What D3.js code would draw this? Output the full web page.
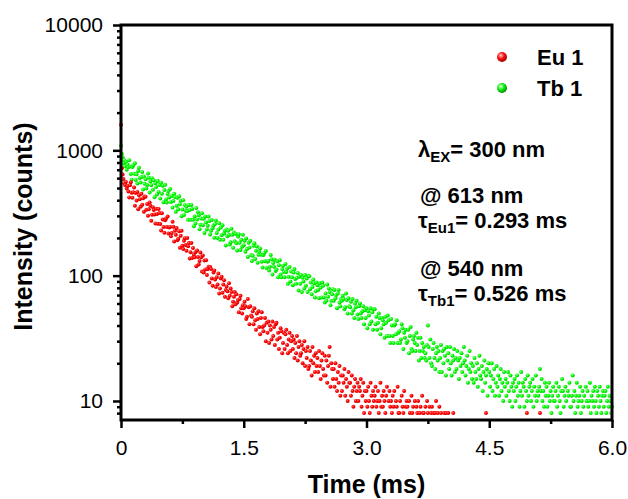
<!DOCTYPE html>
<html>
<head>
<meta charset="utf-8">
<script src="https://cdn.jsdelivr.net/npm/d3@7"></script>
<style>
  body { margin: 0; background: #fff; }
  svg { display: block; font-family: "Liberation Sans", Arial, Helvetica, sans-serif; }
</style>
</head>
<body>
<div id="decayChart"></div>
<script>
// channel width of the decay measurement (ms)
var timeStep = 0.01;

// Eu 1 counts, one value per channel starting at 0 ms (10 channels = 0.1 ms per row)
var euCounts = [
  1600, 720, 640, 590, 545, 530, 560, 495, 520, 470,
  421, 526, 557, 458, 419, 462, 504, 362, 457, 397,
  466, 339, 438, 407, 354, 451, 368, 415, 323, 429,
  427, 335, 373, 301, 338, 384, 362, 274, 306, 352,
  334, 308, 261, 342, 311, 260, 340, 316, 258, 229,
  314, 280, 244, 220, 277, 286, 244, 296, 217, 242,
  245, 206, 219, 269, 246, 187, 228, 212, 240, 192,
  197, 226, 167, 208, 228, 173, 163, 190, 199, 176,
  158, 200, 172, 182, 137, 154, 182, 138, 166, 147,
  140, 154, 119, 159, 141, 123, 131, 153, 140, 108,
  145, 106, 132, 112, 133, 101, 113, 118, 88, 117,
  113, 95, 83, 106, 110, 93, 81, 97, 85, 104,
  72, 79, 95, 98, 73, 85, 92, 68, 77, 82,
  75, 66, 87, 69, 79, 74, 57, 62, 68, 74,
  59, 71, 61, 64, 51, 65, 69, 55, 50, 58,
  55, 62, 57, 45, 47, 65, 56, 41, 57, 48,
  47, 52, 41, 55, 44, 37, 50, 45, 52, 39,
  34, 46, 51, 39, 36, 40, 46, 30, 42, 35,
  43, 29, 40, 37, 31, 43, 33, 39, 28, 41,
  42, 31, 35, 26, 32, 38, 36, 24, 29, 35,
  26, 34, 37, 28, 24, 31, 35, 25, 30, 33,
  26, 31, 22, 29, 24, 33, 21, 27, 30, 23,
  24, 28, 20, 26, 30, 19, 25, 22, 27, 18,
  19, 25, 21, 16, 27, 20, 23, 17, 24, 19,
  22, 17, 25, 19, 15, 21, 24, 18, 16, 23,
  16, 21, 14, 19, 23, 27, 13, 20, 18, 15,
  18, 13, 20, 15, 12, 17, 14, 19, 11, 16,
  12, 16, 14, 18, 11, 15, 13, 10, 17, 14,
  14, 11, 16, 12, 9, 13, 15, 10, 12, 14,
  10, 13, 12, 15, 9, 11, 14, 8, 12, 10,
  12, 9, 13, 10, 8, 14, 11, 9, 12, 10,
  11, 13, 9, 10, 12, 8, 10, 14, 9, 11,
  9, 12, 10, 8, 11, 13, 7, 10, 12, 9,
  10, 8, 11, 9, 12, 7, 10, 9, 13, 8,
  8, 10, 7, 11, 9, 8, 12, 6, 9, 10,
  9, 7, 10, 8, 6, 11, 8, 9, 7, 10,
  7, 9, 8, 10, 6, 8, 9, 7, 11, 8,
  8, 6, 9, 7, 10, 8, 7, 9, 6, 8,
  9, 7, 8, 6, 8, 10, 7, 8, 6, 9,
  7, 8, 6, 7, 7, 8, 5, 8, 7, 6,
  8, 6, 7, 6, 7, 5, 8, 7, 6, 7,
  6, 7, 6, 5, 7, 6, 7, 7, 6, 7,
  7, 5, 6, 7, 7, 6, 5, 7, 6, 7,
  6, 7, 5, 6, 7, 6, 7, 5, 6, 7,
  5, 6, 7, 6, 5, 7, 8, 6, 5, 6,
  6, 7, 5, 6, 6, 5, 7, 6, 5, 6,
  6, 5, 6, 7, 5, 6, 5, 6, 7, 5,
  5, 6, 6, 5, 7, 6, 5, 6, 5, 6,
  6, 5, 6, 5, 6, 7, 5, 6, 5, 5,
  5, 6, 5, 6, 5, 6, 8, 5, 6, 5,
  6, 5, 5, 6, 5, 6, 5, 5, 6, 5,
  5, 6, 8, 5, 6, 5, 5, 6, 5, 6
];

// Tb 1 counts, same channel width, 0 to 6 ms
var tbCounts = [
  1090, 940, 880, 790, 835, 745, 812, 700, 770, 735,
  832, 743, 648, 583, 736, 760, 649, 787, 579, 643,
  544, 684, 727, 601, 553, 613, 673, 487, 617, 540,
  587, 496, 530, 654, 603, 460, 564, 526, 600, 484,
  577, 422, 546, 510, 445, 569, 466, 529, 413, 551,
  451, 521, 386, 482, 531, 405, 383, 448, 473, 421,
  491, 387, 432, 350, 394, 450, 424, 323, 361, 418,
  338, 430, 371, 396, 298, 337, 400, 305, 367, 329,
  355, 328, 279, 366, 334, 279, 367, 341, 279, 248,
  297, 261, 347, 280, 321, 303, 235, 255, 286, 314,
  253, 284, 219, 297, 265, 234, 250, 296, 273, 213,
  228, 278, 239, 251, 201, 258, 275, 219, 200, 233,
  262, 193, 242, 210, 252, 193, 217, 228, 174, 233,
  206, 228, 211, 177, 185, 237, 212, 167, 221, 188,
  215, 181, 159, 205, 214, 183, 160, 193, 170, 212,
  175, 190, 155, 198, 163, 141, 183, 168, 190, 146,
  131, 144, 173, 181, 136, 158, 171, 127, 147, 155,
  165, 147, 129, 116, 146, 151, 130, 157, 115, 129,
  131, 110, 118, 146, 135, 102, 126, 118, 134, 109,
  112, 130, 97, 121, 133, 102, 97, 113, 120, 107,
  97, 124, 107, 114, 86, 98, 117, 90, 108, 97,
  84, 106, 113, 94, 86, 96, 105, 76, 98, 86,
  101, 74, 96, 90, 79, 101, 83, 95, 74, 100,
  99, 78, 88, 71, 81, 93, 87, 67, 75, 88,
  84, 77, 66, 87, 80, 67, 88, 83, 67, 61,
  72, 63, 85, 68, 79, 74, 58, 63, 71, 78,
  63, 77, 66, 70, 55, 72, 77, 61, 57, 65,
  63, 69, 65, 54, 56, 72, 64, 50, 66, 57,
  56, 62, 50, 65, 53, 46, 60, 56, 63, 49,
  45, 57, 60, 50, 46, 52, 57, 41, 53, 46,
  55, 38, 52, 48, 41, 55, 43, 51, 37, 54,
  54, 41, 47, 37, 42, 50, 46, 34, 38, 46,
  44, 41, 32, 47, 42, 33, 48, 44, 33, 29,
  45, 40, 33, 29, 40, 41, 34, 44, 29, 35,
  36, 29, 31, 41, 38, 26, 35, 32, 37, 29,
  30, 37, 24, 33, 39, 26, 25, 31, 33, 29,
  25, 35, 28, 32, 21, 25, 32, 22, 29, 25,
  27, 22, 24, 21, 28, 40, 27, 22, 31, 20,
  19, 26, 29, 22, 18, 24, 27, 21, 25, 17,
  22, 28, 17, 25, 20, 26, 23, 16, 27, 21,
  24, 18, 27, 20, 16, 23, 21, 26, 17, 22,
  18, 25, 21, 15, 22, 19, 24, 17, 20, 27,
  21, 16, 19, 23, 14, 18, 25, 17, 20, 15,
  19, 14, 22, 17, 15, 20, 13, 18, 23, 16,
  15, 19, 12, 17, 21, 14, 16, 18, 11, 20,
  17, 13, 16, 20, 12, 15, 18, 11, 14, 19,
  13, 16, 11, 15, 18, 12, 14, 10, 17, 13,
  15, 11, 14, 17, 12, 10, 16, 13, 9, 14,
  12, 15, 10, 13, 16, 11, 14, 9, 12, 17,
  11, 14, 13, 9, 15, 12, 10, 16, 11, 13,
  14, 10, 12, 15, 9, 13, 11, 16, 10, 12,
  11, 13, 18, 12, 15, 10, 12, 9, 14, 11,
  13, 9, 11, 14, 10, 12, 8, 11, 13, 10,
  10, 12, 14, 9, 11, 13, 10, 8, 12, 15,
  12, 9, 11, 13, 10, 7, 12, 11, 14, 9,
  9, 11, 16, 10, 12, 8, 11, 14, 9, 10,
  11, 13, 8, 10, 12, 9, 11, 7, 13, 10,
  12, 9, 10, 14, 8, 11, 10, 12, 9, 13,
  10, 8, 12, 11, 9, 13, 10, 8, 11, 12,
  9, 11, 12, 8, 10, 13, 9, 11, 10, 8,
  9
];

var seriesNames = ["Eu 1", "Tb 1"];
var xTickValues = [0, 1.5, 3.0, 4.5, 6.0];
var xMinorValues = [0.75, 2.25, 3.75, 5.25];
var yTickValues = [10, 100, 1000, 10000];
var yMinorValues = [8, 9, 20, 30, 40, 50, 60, 70, 80, 90, 200, 300, 400, 500, 600, 700, 800, 900,
  2000, 3000, 4000, 5000, 6000, 7000, 8000, 9000];

// Set the dimensions and margins of the graph
var margin = { top: 25, right: 16, bottom: 79, left: 121 },
  width = 628 - margin.left - margin.right,
  height = 499 - margin.top - margin.bottom;

var svg = d3
  .select("#decayChart")
  .append("svg")
  .attr("width", 628)
  .attr("height", 499);

var defs = svg.append("defs");

// shaded ball look used by the markers
function ballGradient(id, light, mid, dark) {
  var g = defs
    .append("radialGradient")
    .attr("id", id)
    .attr("cx", "38%")
    .attr("cy", "35%")
    .attr("r", "65%");
  g.append("stop").attr("offset", "0%").attr("stop-color", light);
  g.append("stop").attr("offset", "50%").attr("stop-color", mid);
  g.append("stop").attr("offset", "100%").attr("stop-color", dark);
}
ballGradient("dotRed", "#ff7a7a", "#ff0000", "#d40000");
ballGradient("dotGreen", "#9dff9d", "#00ff00", "#00c800");
ballGradient("ballRed", "#ffd0d0", "#ff1010", "#a00000");
ballGradient("ballGreen", "#e0ffe0", "#10f010", "#009000");

var plot = svg
  .append("g")
  .attr("transform", "translate(" + margin.left + "," + margin.top + ")");

var x = d3.scaleLinear().domain([0, 6]).range([0, width]);
var y = d3.scaleLog().domain([7.05, 10000]).range([height, 0]);

// counts below this sit under the x axis line
var countFloor = 7.6;

function toPoints(counts) {
  return counts
    .map(function (c, i) {
      return { t: +(i * timeStep).toFixed(2), c: c };
    })
    .filter(function (d) {
      return d.c >= countFloor;
    });
}

var series = [
  { name: seriesNames[1], data: toPoints(tbCounts), fill: "url(#dotGreen)" },
  { name: seriesNames[0], data: toPoints(euCounts), fill: "url(#dotRed)" },
];

// scatter points, Tb first so Eu sits on top
series.forEach(function (s) {
  plot
    .append("g")
    .selectAll("circle")
    .data(s.data)
    .enter()
    .append("circle")
    .attr("cx", function (d) {
      return x(d.t);
    })
    .attr("cy", function (d) {
      return y(d.c);
    })
    .attr("r", 2)
    .attr("fill", s.fill);
});

// X axis, major and minor ticks
var xAxis = plot
  .append("g")
  .attr("transform", "translate(0," + height + ")")
  .call(
    d3
      .axisBottom(x)
      .tickValues(xTickValues)
      .tickSize(8)
      .tickPadding(12)
      .tickFormat(function (d) {
        return d === 0 ? "0" : d3.format(".1f")(d);
      })
  );
plot
  .append("g")
  .attr("transform", "translate(0," + height + ")")
  .call(d3.axisBottom(x).tickValues(xMinorValues).tickSize(4).tickFormat(""));

// Y axis, log scale
var yAxis = plot
  .append("g")
  .call(
    d3
      .axisLeft(y)
      .tickValues(yTickValues)
      .tickSize(8)
      .tickPadding(10)
      .tickFormat(d3.format("d"))
  );
plot
  .append("g")
  .call(d3.axisLeft(y).tickValues(yMinorValues).tickSize(4).tickFormat(""));

plot.selectAll(".domain").remove();
plot.selectAll(".tick line").attr("stroke", "#000").attr("stroke-width", 2.5);
plot
  .selectAll(".tick text")
  .attr("fill", "#000")
  .style("font-size", "21px")
  .style("font-family", '"Liberation Sans", Arial, sans-serif');

// frame round the plot area
plot
  .append("rect")
  .attr("x", 0)
  .attr("y", 0)
  .attr("width", width)
  .attr("height", height)
  .attr("fill", "none")
  .attr("stroke", "#000")
  .attr("stroke-width", 3);

// axis titles
svg
  .append("text")
  .attr("x", margin.left + width / 2)
  .attr("y", 493)
  .attr("text-anchor", "middle")
  .style("font-size", "25px")
  .style("font-weight", "bold")
  .text("Time (ms)");

svg
  .append("text")
  .attr("transform", "translate(32," + (margin.top + height / 2 + 4) + ") rotate(-90)")
  .attr("text-anchor", "middle")
  .style("font-size", "25px")
  .style("font-weight", "bold")
  .text("Intensity (counts)");

// legend
var legend = svg.append("g").attr("transform", "translate(502,57)");
[
  { name: seriesNames[0], fill: "url(#ballRed)" },
  { name: seriesNames[1], fill: "url(#ballGreen)" },
].forEach(function (d, i) {
  legend
    .append("circle")
    .attr("cx", 0)
    .attr("cy", i * 31)
    .attr("r", 5)
    .attr("fill", d.fill);
  legend
    .append("text")
    .attr("x", 35)
    .attr("y", i * 31 + 8)
    .style("font-size", "22px")
    .style("font-weight", "bold")
    .text(d.name);
});

// annotation block
var notes = [
  { x: 418, y: 157, main: "\u03bb", sub: "EX", rest: "= 300 nm" },
  { x: 420, y: 203, main: "@ 613 nm", sub: "", rest: "" },
  { x: 418, y: 228, main: "\u03c4", sub: "Eu1", rest: "= 0.293 ms" },
  { x: 420, y: 276, main: "@ 540 nm", sub: "", rest: "" },
  { x: 418, y: 301, main: "\u03c4", sub: "Tb1", rest: "= 0.526 ms" },
];
notes.forEach(function (n) {
  var t = svg
    .append("text")
    .attr("x", n.x)
    .attr("y", n.y)
    .style("font-size", "22px")
    .style("font-weight", "bold");
  t.append("tspan").text(n.main);
  if (n.sub) {
    t.append("tspan").attr("dy", 5).style("font-size", "15px").text(n.sub);
    t.append("tspan").attr("dy", -5).text(n.rest);
  }
});
</script>
</body>
</html>
